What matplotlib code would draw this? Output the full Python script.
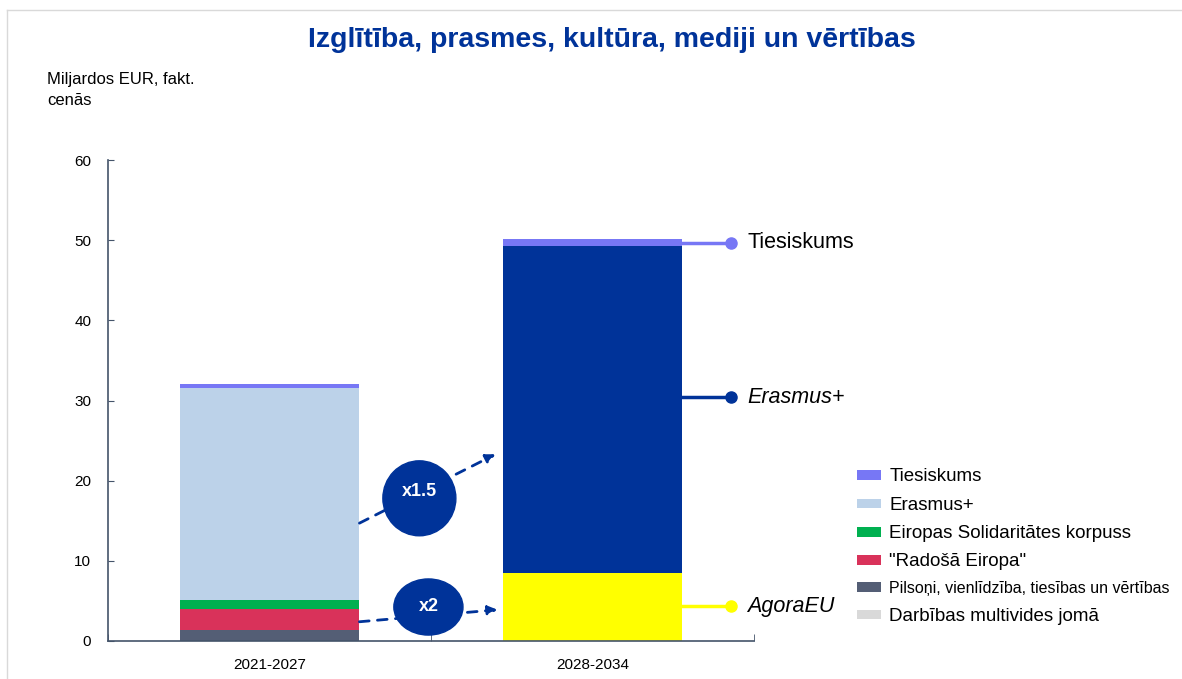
import matplotlib.pyplot as plt
from matplotlib.patches import Ellipse
from matplotlib.lines import Line2D

plt.rcParams['font.family'] = ['Liberation Sans', 'DejaVu Sans']

# Data (billions EUR, current prices)
periods = ['2021-2027', '2028-2034']
pilsoni = [1.4, 0.0]
radosa = [2.6, 0.0]
solidaritate = [1.1, 0.0]
erasmus = [26.4, 40.8]
tiesiskums = [0.5, 0.9]
multivides = [0.0, 0.0]
agora = [0.0, 8.5]

legend_names = ['Tiesiskums', 'Erasmus+', 'Eiropas Solidaritātes korpuss',
                '"Radošā Eiropa"', 'Pilsoņi, vienlīdzība, tiesības un vērtības',
                'Darbības multivides jomā']

c_ties = '#7777F5'
c_eras_old = '#BCD2E9'
c_eras_new = '#003399'
c_green = '#00B050'
c_red = '#D9325A'
c_gray = '#545E75'
c_light = '#D9D9D9'
c_yellow = '#FFFF00'
navy = '#003399'
axis_col = '#44546A'

fig = plt.figure(figsize=(11.82, 6.79), dpi=100)
ax = fig.add_axes([108/1182, 38/679, (754-108)/1182, (641-160)/679])

x = [0, 1]
w = 0.557
eras_cols = [c_eras_old, c_eras_new]

bottom = [0.0, 0.0]
hp = ax.bar(x, pilsoni, w, bottom=bottom, color=c_gray)
bottom = [b + v for b, v in zip(bottom, pilsoni)]
hr = ax.bar(x, radosa, w, bottom=bottom, color=c_red)
bottom = [b + v for b, v in zip(bottom, radosa)]
hs = ax.bar(x, solidaritate, w, bottom=bottom, color=c_green)
bottom = [b + v for b, v in zip(bottom, solidaritate)]
hm = ax.bar(x, multivides, w, bottom=bottom, color=c_light)
bottom = [b + v for b, v in zip(bottom, multivides)]
ha = ax.bar(x, agora, w, bottom=bottom, color=c_yellow)
bottom = [b + v for b, v in zip(bottom, agora)]
he = ax.bar(x, erasmus, w, bottom=bottom, color=eras_cols)
bottom = [b + v for b, v in zip(bottom, erasmus)]
ht = ax.bar(x, tiesiskums, w, bottom=bottom, color=c_ties)

# axes styling
ax.set_xlim(-0.5, 1.5)
ax.set_ylim(0, 60)
ax.set_yticks(range(0, 61, 10))
ax.set_xticks(x)
ax.set_xticklabels(periods)
ax.set_xticks([-0.5, 0.5, 1.5], minor=True)
ax.tick_params(axis='x', which='major', length=0, pad=12, labelsize=11)
ax.tick_params(axis='x', which='minor', direction='in', length=5, color=axis_col)
ax.tick_params(axis='y', direction='in', length=4, pad=12, labelsize=11, color=axis_col)
for s in ['top', 'right']:
    ax.spines[s].set_visible(False)
for s in ['left', 'bottom']:
    ax.spines[s].set_color(axis_col)
    ax.spines[s].set_linewidth(1.2)

# labels on the right of the 2028-2034 bar
x0 = 1 + w / 2
x1 = 1.429
lab_x = 1.48
y_ties = erasmus[1] + agora[1] + tiesiskums[1] / 2 - 0.1
y_eras = 30.4
y_agora = 4.35
for yy, col, txt, sty in [(y_ties, c_ties, 'Tiesiskums', 'normal'),
                          (y_eras, navy, 'Erasmus+', 'italic'),
                          (y_agora, c_yellow, 'AgoraEU', 'italic')]:
    ax.plot([x0, x1], [yy, yy], color=col, lw=2.5, clip_on=False)
    ax.plot([x1], [yy], 'o', color=col, ms=8, clip_on=False)
    ax.text(lab_x, yy, txt, fontsize=15.5, style=sty, va='center', ha='left',
            clip_on=False)

# growth arrows and bubbles
ax.annotate('', xy=(0.70, 23.3), xytext=(w / 2, 14.7),
            arrowprops=dict(arrowstyle='-|>', color=navy, lw=2, ls=(0, (3.5, 3)),
                            mutation_scale=14, shrinkA=0, shrinkB=0), zorder=3)
ax.annotate('', xy=(0.706, 3.9), xytext=(w / 2, 2.4),
            arrowprops=dict(arrowstyle='-|>', color=navy, lw=2, ls=(0, (3.5, 3)),
                            mutation_scale=14, shrinkA=0, shrinkB=0), zorder=3)
ax.add_patch(Ellipse((0.464, 17.8), 0.226, 9.35, color=navy, zorder=4, clip_on=False))
ax.add_patch(Ellipse((0.492, 4.24), 0.214, 7.0, color=navy, zorder=4, clip_on=False))
ax.text(0.464, 18.6, 'x1.5', color='white', fontsize=13, fontweight='bold',
        ha='center', va='center', zorder=5)
ax.text(0.492, 4.3, 'x2', color='white', fontsize=13, fontweight='bold',
        ha='center', va='center', zorder=5)

# legend
handles = [ht[0], he[0], hs[0], hr[0], hp[0], hm[0]]
leg = fig.legend(handles, legend_names, loc='upper left',
                 bbox_to_anchor=(848/1182, 1 - 459/679), frameon=False,
                 fontsize=13.5, handlelength=1.25, handleheight=0.5,
                 handletextpad=0.45, labelspacing=0.6, borderpad=0)
for h in leg.legend_handles:
    h.set_height(7)
leg.get_texts()[4].set_fontsize(11.5)

# title and unit label
fig.text(0.518, 1 - 40/679, 'Izglītība, prasmes, kultūra, mediji un vērtības',
         color=navy, fontsize=20.5, fontweight='bold', ha='center', va='center')
fig.text(47/1182, 1 - 72/679, 'Miljardos EUR, fakt.\ncenās', fontsize=12,
         ha='left', va='top', linespacing=1.5)

# thin frame at top and left
fig.add_artist(Line2D([7/1182, 1], [1 - 10/679, 1 - 10/679], color='#D9D9D9', lw=1))
fig.add_artist(Line2D([7/1182, 7/1182], [0, 1 - 10/679], color='#D9D9D9', lw=1))

plt.savefig('out.png', dpi=100)
